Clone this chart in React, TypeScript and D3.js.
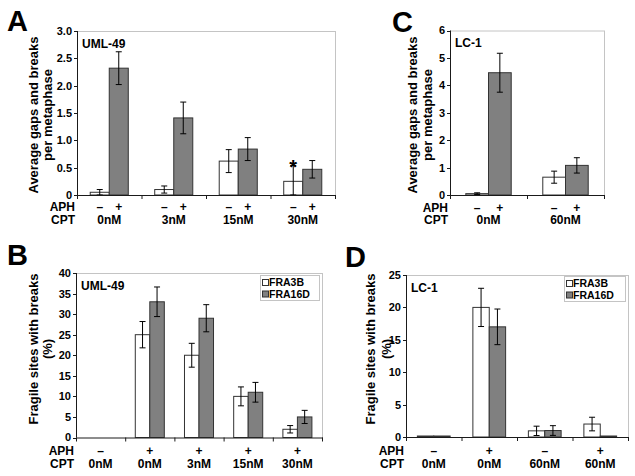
import React from "react";
import * as d3 from "d3";

const FONT = "'Liberation Sans', Arial, Helvetica, sans-serif";

// ---------- Panel A (UML-49, gaps/breaks) ----------
const aCpt = ["0nM", "3nM", "15nM", "30nM"];
const aAph = [["–", "+"], ["–", "+"], ["–", "+"], ["–", "+"]];
const aWhite = [0.05, 0.1, 0.62, 0.25];
const aWhiteErr = [0.05, 0.065, 0.21, 0.29];
const aGray = [2.32, 1.41, 0.84, 0.47];
const aGrayErr = [0.3, 0.29, 0.21, 0.16];
const aTicks = [0, 0.5, 1, 1.5, 2, 2.5, 3];

// ---------- Panel C (LC-1, gaps/breaks) ----------
const cCpt = ["0nM", "60nM"];
const cAph = [["–", "+"], ["–", "+"]];
const cWhite = [0.05, 0.65];
const cWhiteErr = [0.03, 0.22];
const cGray = [4.46, 1.08];
const cGrayErr = [0.71, 0.28];
const cTicks = [0, 1, 2, 3, 4, 5, 6];

// ---------- Panel B (UML-49, fragile sites) ----------
const bCpt = ["0nM", "0nM", "3nM", "15nM", "30nM"];
const bAph = ["–", "+", "+", "+", "+"];
const bWhite = [null, 25, 20, 10, 2];
const bWhiteErr = [null, 3.2, 2.9, 2.3, 0.9];
const bGray = [null, 33, 29, 11, 5];
const bGrayErr = [null, 3.6, 3.3, 2.4, 1.6];
const bTicks = [0, 5, 10, 15, 20, 25, 30, 35, 40];

// ---------- Panel D (LC-1, fragile sites) ----------
const dCpt = ["0nM", "0nM", "60nM", "60nM"];
const dAph = ["–", "+", "–", "+"];
const dWhite = [0, 20, 0.95, 2];
const dWhiteErr = [null, 2.95, 0.72, 1.05];
const dGray = [0, 17, 1, 0];
const dGrayErr = [null, 2.75, 0.75, null];
const dTicks = [0, 5, 10, 15, 20, 25];

const legendNames = ["FRA3B", "FRA16D"];

const WHITE = "#ffffff";
const GRAY = "#808080";
const AXIS = "#1a1a1a";
const FRAME = "#c4c4c4";

type PanelProps = {
  letter: string;
  letterX: number;
  letterY: number;
  x0: number;
  x1: number;
  yTop: number;
  yBot: number;
  ticks: number[];
  fmt: (v: number) => string;
  cpt: string[];
  aph: (string | string[])[];
  white: (number | null)[];
  whiteErr: (number | null)[];
  gray: (number | null)[];
  grayErr: (number | null)[];
  cell: string;
  cellSize: number;
  yLabel: string[];
  yLabelX: number[];
  yLabelCy: number;
  aphBase: number;
  cptBase: number;
  legend?: { x: number; y: number; w: number; h: number };
  star?: number;
};

function Panel(p: PanelProps) {
  const yMax = p.ticks[p.ticks.length - 1];
  const y = d3.scaleLinear().domain([0, yMax]).range([p.yBot, p.yTop]);
  const groups = p.cpt.map((_, i) => String(i));
  const xb = d3.scaleBand().domain(groups).range([p.x0, p.x1]).paddingInner(0).paddingOuter(0);
  const inner = d3
    .scaleBand()
    .domain(["w", "g"])
    .range([0, xb.bandwidth()])
    .paddingInner(0)
    .paddingOuter(0.695);
  const bw = inner.bandwidth();
  const bounds = d3.range(groups.length + 1).map((i) => p.x0 + i * xb.step());

  const bars: { x: number; v: number | null; e: number | null; fill: string }[] = [];
  groups.forEach((g, i) => {
    bars.push({ x: (xb(g) as number) + (inner("w") as number), v: p.white[i], e: p.whiteErr[i], fill: WHITE });
    bars.push({ x: (xb(g) as number) + (inner("g") as number), v: p.gray[i], e: p.grayErr[i], fill: GRAY });
  });
  const lg = p.legend;

  return (
    <g fontFamily={FONT} fontWeight="bold">
      <text x={p.letterX} y={p.letterY} fontSize={29} fill="#000">
        {p.letter}
      </text>
      {/* frame */}
      <line x1={p.x0} x2={p.x1} y1={p.yTop + 0.5} y2={p.yTop + 0.5} stroke={FRAME} />
      <line x1={p.x1 + 0.5} x2={p.x1 + 0.5} y1={p.yTop} y2={p.yBot} stroke={FRAME} />
      {/* bars */}
      {bars.map((b, i) => {
        if (b.v == null) return null;
        const v = b.v;
        const top = y(v);
        const h = Math.max(1, p.yBot - top);
        return (
          <g key={i}>
            <rect x={b.x} y={p.yBot - h} width={bw} height={h} fill={b.fill} stroke="#333" strokeWidth={1} />
            {b.e != null && (
              <g stroke="#000" strokeWidth={1}>
                <line x1={b.x + bw / 2} x2={b.x + bw / 2} y1={y(v + b.e)} y2={y(Math.max(0, v - b.e))} />
                <line x1={b.x + bw / 2 - 3} x2={b.x + bw / 2 + 3} y1={y(v + b.e)} y2={y(v + b.e)} />
                <line
                  x1={b.x + bw / 2 - 3}
                  x2={b.x + bw / 2 + 3}
                  y1={y(Math.max(0, v - b.e))}
                  y2={y(Math.max(0, v - b.e))}
                />
              </g>
            )}
          </g>
        );
      })}
      {p.star != null && (
        <text
          x={bars[p.star * 2].x + bw / 2}
          y={y((p.white[p.star] as number) + (p.whiteErr[p.star] as number)) + 9}
          fontSize={20}
          textAnchor="middle"
        >
          *
        </text>
      )}
      {/* axes */}
      <line x1={p.x0 + 0.5} x2={p.x0 + 0.5} y1={p.yTop} y2={p.yBot} stroke={AXIS} />
      <line x1={p.x0} x2={p.x1 + 1} y1={p.yBot + 0.5} y2={p.yBot + 0.5} stroke={AXIS} />
      {p.ticks.map((t) => (
        <g key={t}>
          <line x1={p.x0 - 3} x2={p.x0} y1={Math.round(y(t)) + 0.5} y2={Math.round(y(t)) + 0.5} stroke={AXIS} />
          <text x={p.x0 - 5} y={y(t)} dy="0.36em" fontSize={11} textAnchor="end">
            {p.fmt(t)}
          </text>
        </g>
      ))}
      {bounds.map((bx, i) => (
        <line key={i} x1={bx + 0.5} x2={bx + 0.5} y1={p.yBot} y2={p.yBot + 4} stroke={AXIS} />
      ))}
      {/* x labels */}
      <text x={p.x0 - 2} y={p.aphBase} fontSize={12} textAnchor="end">
        APH
      </text>
      <text x={p.x0 - 2} y={p.cptBase} fontSize={12} textAnchor="end">
        CPT
      </text>
      {groups.map((g, i) => {
        const a = p.aph[i];
        const gx = (xb(g) as number) + xb.bandwidth() / 2;
        return (
          <g key={g}>
            {Array.isArray(a) ? (
              a.map((s, j) => (
                <text
                  key={j}
                  x={(xb(g) as number) + (inner(j === 0 ? "w" : "g") as number) + bw / 2}
                  y={p.aphBase}
                  fontSize={12}
                  textAnchor="middle"
                >
                  {s}
                </text>
              ))
            ) : (
              <text x={gx} y={p.aphBase} fontSize={12} textAnchor="middle">
                {a}
              </text>
            )}
            <text x={gx} y={p.cptBase} fontSize={12} textAnchor="middle">
              {p.cpt[i]}
            </text>
          </g>
        );
      })}
      {/* cell label */}
      <text x={p.x0 + 5} y={p.yTop + 16.5} fontSize={p.cellSize}>
        {p.cell}
      </text>
      {/* y label */}
      {p.yLabel.map((l, i) => (
        <text
          key={i}
          transform={`translate(${p.yLabelX[i]},${p.yLabelCy}) rotate(-90)`}
          fontSize={13}
          textAnchor="middle"
          dominantBaseline="central"
        >
          {l}
        </text>
      ))}
      {lg && (
        <g>
          <rect x={lg.x + 0.5} y={lg.y + 0.5} width={lg.w} height={lg.h} fill="#fff" stroke={FRAME} />
          {legendNames.map((n, i) => (
            <g key={n}>
              <rect
                x={lg.x + 2.5}
                y={lg.y + 4.5 + i * 11.5}
                width={6}
                height={6}
                fill={i === 0 ? WHITE : GRAY}
                stroke="#333"
              />
              <text x={lg.x + 9} y={lg.y + 11 + i * 11.5} fontSize={10.5}>
                {n}
              </text>
            </g>
          ))}
        </g>
      )}
    </g>
  );
}

export default function App() {
  const fmtA = (v: number) => (v === 0 ? "0" : d3.format(".1f")(v));
  const fmtI = (v: number) => String(v);
  return (
    <svg width={635} height={476} style={{ position: "absolute", left: 0, top: 0, background: "#fff" }}>
      <rect width={635} height={476} fill="#fff" />
      <Panel
        letter="A"
        letterX={7}
        letterY={31}
        x0={77}
        x1={335}
        yTop={31}
        yBot={195}
        ticks={aTicks}
        fmt={fmtA}
        cpt={aCpt}
        aph={aAph}
        white={aWhite}
        whiteErr={aWhiteErr}
        gray={aGray}
        grayErr={aGrayErr}
        cell="UML-49"
        cellSize={12}
        yLabel={["Average gaps and breaks", "per metaphase"]}
        yLabelX={[33, 47]}
        yLabelCy={115}
        aphBase={211}
        cptBase={224}
        star={3}
      />
      <Panel
        letter="C"
        letterX={392}
        letterY={32}
        x0={450}
        x1={604}
        yTop={30.5}
        yBot={195}
        ticks={cTicks}
        fmt={fmtI}
        cpt={cCpt}
        aph={cAph}
        white={cWhite}
        whiteErr={cWhiteErr}
        gray={cGray}
        grayErr={cGrayErr}
        cell="LC-1"
        cellSize={12}
        yLabel={["Average gaps and breaks", "per metaphase"]}
        yLabelX={[412, 427]}
        yLabelCy={115}
        aphBase={211.5}
        cptBase={224}
      />
      <Panel
        letter="B"
        letterX={7}
        letterY={265}
        x0={76}
        x1={322}
        yTop={273}
        yBot={437.5}
        ticks={bTicks}
        fmt={fmtI}
        cpt={bCpt}
        aph={bAph}
        white={bWhite}
        whiteErr={bWhiteErr}
        gray={bGray}
        grayErr={bGrayErr}
        cell="UML-49"
        cellSize={12}
        yLabel={["Fragile sites with breaks", "(%)"]}
        yLabelX={[33, 47]}
        yLabelCy={349}
        aphBase={454.5}
        cptBase={467.5}
        legend={{ x: 260, y: 275, w: 59, h: 25 }}
      />
      <Panel
        letter="D"
        letterX={345}
        letterY={266.5}
        x0={406}
        x1={628}
        yTop={275}
        yBot={437}
        ticks={dTicks}
        fmt={fmtI}
        cpt={dCpt}
        aph={dAph}
        white={dWhite}
        whiteErr={dWhiteErr}
        gray={dGray}
        grayErr={dGrayErr}
        cell="LC-1"
        cellSize={12}
        yLabel={["Fragile sites with breaks", "(%)"]}
        yLabelX={[370, 386]}
        yLabelCy={349}
        aphBase={454.5}
        cptBase={467.5}
        legend={{ x: 564, y: 276, w: 61, h: 25 }}
      />
    </svg>
  );
}
